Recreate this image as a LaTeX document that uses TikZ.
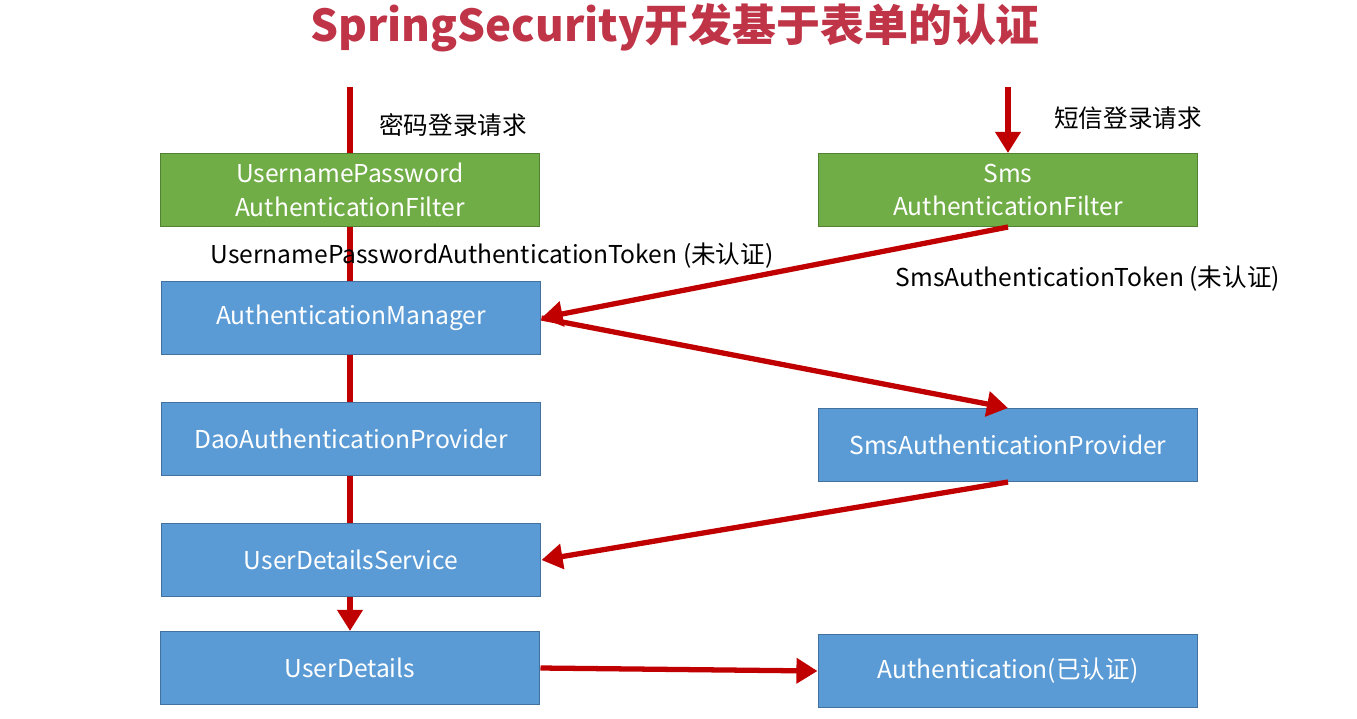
\documentclass[tikz,border=0pt]{standalone}
\usepackage{fontspec}
\setmainfont{Noto Sans CJK SC}
\usetikzlibrary{backgrounds,arrows.meta}
\definecolor{flowred}{RGB}{192,0,0}
\definecolor{titlered}{RGB}{192,52,72}
\definecolor{boxgreen}{RGB}{112,173,71}
\definecolor{boxblue}{RGB}{91,155,213}
\definecolor{edgeblue}{RGB}{65,113,156}
\definecolor{edgegreen}{RGB}{80,130,50}
\begin{document}
\begin{tikzpicture}[x=0.02cm,y=-0.02cm,
	box/.style={draw=edgeblue,fill=boxblue,text=white,minimum width=7.6cm,minimum height=1.46cm,align=center,inner sep=0pt,font=\fontsize{14}{19}\selectfont,line width=0.6pt},
	filter/.style={box,draw=edgegreen,fill=boxgreen},
	flow/.style={flowred,line width=3pt,-{Triangle[length=12pt,width=14pt]}},
	lbl/.style={font=\fontsize{14}{17}\selectfont}]
	\useasboundingbox (0,0) rectangle (1357,718);
	\node[font=\bfseries\fontsize{25}{30}\selectfont,text=titlered] (title) at (675,28) {SpringSecurity开发基于表单的认证};
	\node[filter] (upf) at (350,190) {UsernamePassword\\AuthenticationFilter};
	\node[filter] (smsf) at (1008,190) {Sms\\AuthenticationFilter};
	\node[box] (am) at (351,318) {AuthenticationManager};
	\node[box] (dao) at (351,439) {DaoAuthenticationProvider};
	\node[box] (uds) at (351,560) {UserDetailsService};
	\node[box] (ud) at (350,668) {UserDetails};
	\node[box] (smsp) at (1008,445) {SmsAuthenticationProvider};
	\node[box] (auth) at (1008,671) {Authentication(已认证)};
	
	\node[lbl] (pwreq) at (453,125) {密码登录请求};
	\node[lbl] (smsreq) at (1128,118) {短信登录请求};
	\node[lbl] (uptoken) at (492,256) {UsernamePasswordAuthenticationToken (未认证)};
	\node[lbl] (smstoken) at (1088,279) {SmsAuthenticationToken (未认证)};
	
	\coordinate (pwin) at (350,87);
	\coordinate (smsin) at (1008,87);
	\begin{scope}[on background layer]
		\draw[flow] (pwin) -- (ud.north);
	\end{scope}
	\draw[flow] (smsin) -- (smsf.north);
	\draw[flow] (smsf.south) -- (am.east);
	\draw[flow] (am.east) -- (smsp.north);
	\draw[flow] (smsp.south) -- (uds.east);
	\draw[flow] (ud.east) -- (auth.west);
\end{tikzpicture}
\end{document}
